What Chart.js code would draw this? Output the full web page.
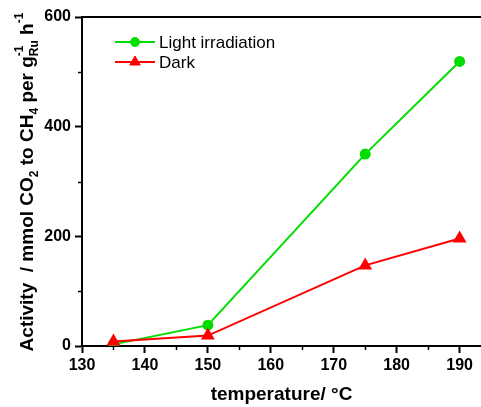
<!DOCTYPE html>
<html>
<head>
<meta charset="utf-8">
<script src="https://cdn.jsdelivr.net/npm/chart.js@4/dist/chart.umd.min.js"></script>
<style>
  html, body { margin: 0; padding: 0; background: #fff; }
  #wrap { width: 481px; height: 407px; }
</style>
</head>
<body>
<div id="wrap"><canvas id="chart" width="481" height="407"></canvas></div>
<script>
// data
const temperatures = [135, 150, 175, 190];
const lightActivity = [3, 38, 350, 519];
const darkActivity = [8, 19, 147, 196];

const xMajorTicks = [130, 140, 150, 160, 170, 180, 190];
const xMinorTicks = [135, 145, 155, 165, 175, 185];
const yMajorTicks = [0, 200, 400, 600];
const yMinorTicks = [100, 300, 500];

const seriesNames = ['Light irradiation', 'Dark'];
const xTitle = 'temperature/ \u00B0C';

const GREEN = '#00dd00';
const RED = '#ff0000';
const FONT = '"Liberation Sans", Arial, sans-serif';

// y title with sub/superscripts, pieces: [text, kind]
const yTitleParts = [
    ['Activity  / mmol CO', 'n'], ['2', 'sub'], [' to CH', 'n'], ['4', 'sub'],
    [' per g', 'n'], ['Ru', 'subsup', '-1'], [' h', 'n'], ['-1', 'sup']
];

const toPoints = (xs, ys) => xs.map((x, i) => ({ x: x, y: ys[i] }));

// minor ticks, top border, y title, legend
const extrasPlugin = {
    id: 'extras',
    afterDraw: (chart) => {
        const { ctx, chartArea } = chart;
        const xs = chart.scales.x, ys = chart.scales.y;
        ctx.save();
        ctx.strokeStyle = '#000';
        ctx.lineWidth = 2;
        // top frame line
        ctx.beginPath();
        ctx.moveTo(chartArea.left - 1, chartArea.top);
        ctx.lineTo(chartArea.right, chartArea.top);
        ctx.stroke();
        // minor ticks
        ctx.lineWidth = 1.5;
        xMinorTicks.forEach(v => {
            const px = Math.round(xs.getPixelForValue(v)) + 0.5;
            ctx.beginPath();
            ctx.moveTo(px, chartArea.bottom);
            ctx.lineTo(px, chartArea.bottom + 4);
            ctx.stroke();
        });
        yMinorTicks.forEach(v => {
            const py = Math.round(ys.getPixelForValue(v)) + 0.5;
            ctx.beginPath();
            ctx.moveTo(chartArea.left, py);
            ctx.lineTo(chartArea.left - 4, py);
            ctx.stroke();
        });

        // y axis title, rotated
        const big = 'bold 19px ' + FONT;
        const small = 'bold 12px ' + FONT;
        let total = 0;
        yTitleParts.forEach(p => {
            ctx.font = p[1] === 'n' ? big : small;
            let w = ctx.measureText(p[0]).width;
            if (p[1] === 'subsup') w = Math.max(w, ctx.measureText(p[2]).width);
            total += w;
        });
        ctx.translate(26, 182);
        ctx.rotate(-Math.PI / 2);
        ctx.fillStyle = '#000';
        ctx.textBaseline = 'alphabetic';
        ctx.textAlign = 'left';
        let cx = -total / 2;
        const base = 7;
        yTitleParts.forEach(p => {
            if (p[1] === 'n') {
                ctx.font = big;
                ctx.fillText(p[0], cx, base);
                cx += ctx.measureText(p[0]).width;
            } else if (p[1] === 'sub') {
                ctx.font = small;
                ctx.fillText(p[0], cx, base + 5);
                cx += ctx.measureText(p[0]).width;
            } else if (p[1] === 'sup') {
                ctx.font = small;
                ctx.fillText(p[0], cx, base - 10);
                cx += ctx.measureText(p[0]).width;
            } else {
                ctx.font = small;
                ctx.fillText(p[0], cx, base + 5);
                ctx.fillText(p[2], cx, base - 10);
                cx += Math.max(ctx.measureText(p[0]).width, ctx.measureText(p[2]).width);
            }
        });
        ctx.restore();

        // legend inside the plot
        ctx.save();
        const rows = [42, 62];
        chart.data.datasets.forEach((ds) => {
            const y = rows[ds.legendRow];
            ctx.strokeStyle = ds.borderColor;
            ctx.lineWidth = 2;
            ctx.beginPath();
            ctx.moveTo(115, y);
            ctx.lineTo(155, y);
            ctx.stroke();
            ctx.fillStyle = ds.pointBackgroundColor;
            ctx.strokeStyle = ds.pointBackgroundColor;
            ctx.lineWidth = 1;
            Chart.helpers.drawPoint(ctx, {
                pointStyle: ds.pointStyle, radius: ds.pointRadius, borderWidth: 1, rotation: 0
            }, 135, y);
            ctx.fillStyle = '#000';
            ctx.font = '17px ' + FONT;
            ctx.textBaseline = 'middle';
            ctx.fillText(ds.label, 159, y + 1);
        });
        ctx.restore();
    }
};

const ctx = document.getElementById('chart').getContext('2d');
new Chart(ctx, {
    type: 'line',
    data: {
        datasets: [
            {
                label: seriesNames[0],
                data: toPoints(temperatures, lightActivity),
                borderColor: GREEN, backgroundColor: GREEN,
                pointBackgroundColor: GREEN, pointBorderColor: GREEN,
                pointStyle: 'circle', pointRadius: 4.5, borderWidth: 2,
                order: 1, legendRow: 0
            },
            {
                label: seriesNames[1],
                data: toPoints(temperatures, darkActivity),
                borderColor: RED, backgroundColor: RED,
                pointBackgroundColor: RED, pointBorderColor: RED,
                pointStyle: 'triangle', pointRadius: 6, borderWidth: 2,
                order: 0, legendRow: 1
            }
        ]
    },
    options: {
        responsive: false,
        animation: false,
        events: [],
        layout: { autoPadding: false, padding: { top: 17, right: 0, left: 0, bottom: 0 } },
        plugins: {
            legend: { display: false },
            tooltip: { enabled: false }
        },
        scales: {
            x: {
                type: 'linear',
                min: 130, max: 193.4,
                afterBuildTicks: (s) => { s.ticks = xMajorTicks.map(v => ({ value: v })); },
                afterFit: (s) => {
                    s.height = 61;
                    s.paddingLeft = 0; s.paddingRight = 0;
                },
                grid: { drawOnChartArea: false, tickLength: 7, tickWidth: 2, tickColor: '#000' },
                border: { color: '#000', width: 2 },
                ticks: { color: '#000', padding: 3, font: { family: FONT, size: 16, weight: 'bold' } },
                title: {
                    display: true, text: xTitle, color: '#000',
                    padding: { top: 0, bottom: 1 },
                    font: { family: FONT, size: 19, weight: 'bold' }
                }
            },
            y: {
                min: 0, max: 600,
                afterBuildTicks: (s) => { s.ticks = yMajorTicks.map(v => ({ value: v })); },
                afterFit: (s) => { s.width = 82; },
                grid: { drawOnChartArea: false, tickLength: 7, tickWidth: 2, tickColor: '#000' },
                border: { color: '#000', width: 2 },
                ticks: { color: '#000', padding: 4, font: { family: FONT, size: 16, weight: 'bold' } }
            }
        }
    },
    plugins: [extrasPlugin]
});
</script>
</body>
</html>
